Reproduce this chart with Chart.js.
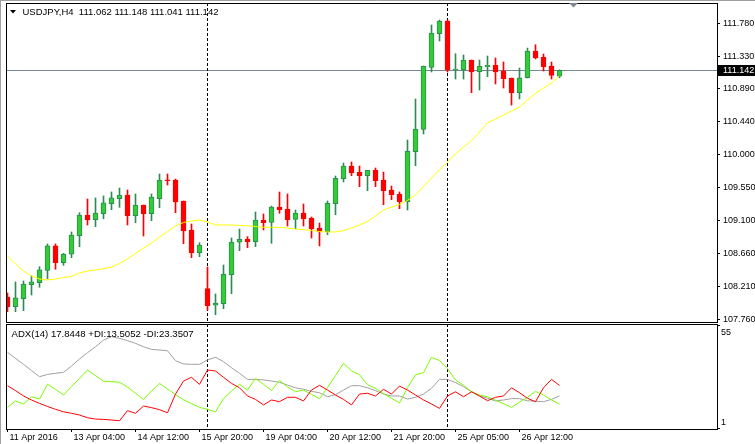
<!DOCTYPE html>
<html><head><meta charset="utf-8">
<script src="https://cdn.jsdelivr.net/npm/chart.js@4.4.0/dist/chart.umd.min.js"></script>
<style>
html,body{margin:0;padding:0;background:#fff;overflow:hidden;}
#wrap{position:relative;width:755px;height:444px;background:#fff;}
#c1{position:absolute;left:0;top:0;}
#c2{position:absolute;left:0;top:323px;}
</style></head><body>
<div id="wrap"><canvas id="c1" width="755" height="323"></canvas><canvas id="c2" width="755" height="121"></canvas></div>
<script>
const symbolName = 'USDJPY';
const timeframe = 'H4';
const opens  = [108.063,107.931,108.040,108.230,108.257,108.425,108.756,108.529,108.643,108.896,
                109.177,109.113,109.194,109.330,109.398,109.448,109.167,109.312,109.194,109.398,
                109.651,109.651,109.367,108.973,108.664,108.176,107.950,107.972,108.366,108.806,
                108.850,108.814,109.109,109.077,109.285,109.258,109.118,109.204,109.136,108.999,
                108.950,109.330,109.670,109.842,109.760,109.710,109.788,109.651,109.516,109.458,
                109.357,110.036,110.340,111.182,111.639,111.811,111.146,111.146,111.282,111.123,
                111.191,111.214,111.132,111.037,110.837,111.041,111.404,111.322,111.200,111.062];
const highs  = [108.117,108.267,108.280,108.348,108.474,108.783,108.783,108.656,108.946,109.208,
                109.394,109.408,109.435,109.489,109.543,109.516,109.462,109.312,109.462,109.733,
                109.733,109.665,109.367,109.054,108.800,108.470,108.104,108.497,108.864,108.986,
                108.882,109.217,109.190,109.299,109.489,109.462,109.244,109.326,109.149,109.068,
                109.367,109.706,109.883,109.897,109.842,109.784,109.815,109.760,109.570,109.489,
                110.195,110.752,111.200,111.757,111.825,111.825,111.367,111.350,111.282,111.282,
                111.336,111.309,111.255,111.037,111.173,111.444,111.489,111.363,111.255,111.148];
const lows   = [107.863,107.863,107.877,108.090,108.195,108.311,108.439,108.493,108.597,108.746,
                109.041,109.018,109.126,109.249,109.281,109.041,109.072,108.891,109.099,109.276,
                109.584,109.208,108.787,108.597,108.610,107.886,107.822,107.904,108.108,108.692,
                108.732,108.746,108.973,108.792,109.200,109.027,108.990,109.027,108.864,108.756,
                108.909,109.181,109.625,109.710,109.561,109.507,109.561,109.316,109.384,109.262,
                109.244,109.846,110.277,111.119,111.540,111.119,111.023,111.023,110.837,110.874,
                111.055,110.956,110.901,110.670,110.752,111.037,111.295,111.132,111.023,111.041];
const closes = [107.931,108.053,108.239,108.267,108.430,108.756,108.529,108.647,108.905,109.177,
                109.109,109.204,109.340,109.408,109.448,109.167,109.312,109.194,109.421,109.651,
                109.642,109.353,108.960,108.664,108.769,107.945,107.981,108.375,108.810,108.846,
                108.814,109.109,109.072,109.285,109.249,109.113,109.204,109.126,108.990,108.950,
                109.335,109.675,109.842,109.751,109.710,109.784,109.642,109.507,109.452,109.357,
                110.042,110.345,111.200,111.648,111.811,111.146,111.150,111.282,111.119,111.200,
                111.214,111.119,111.028,110.837,111.041,111.404,111.309,111.191,111.074,111.142];
const maValues = [108.620,108.511,108.416,108.348,108.307,108.294,108.307,108.328,108.341,108.389,
                  108.416,108.430,108.447,108.470,108.518,108.579,108.654,108.728,108.796,108.878,
                  108.952,109.027,109.075,109.095,109.109,109.081,109.041,109.041,109.041,109.034,
                  109.030,109.020,109.009,109.009,109.009,109.000,108.986,108.977,108.966,108.952,
                  108.946,108.946,108.963,109.000,109.041,109.088,109.163,109.244,109.285,109.319,
                  109.373,109.448,109.564,109.679,109.788,109.896,110.005,110.100,110.188,110.304,
                  110.426,110.480,110.535,110.589,110.643,110.738,110.827,110.901,110.969,111.064];
const adxValues = [40.7,37.5,34.4,31.1,27.9,29.1,29.7,30.2,33.5,37.2,
                   40.5,43.6,47.1,48.9,48.0,46.8,45.4,43.6,42.2,41.9,
                   41.5,36.3,34.6,34.4,34.4,36.7,38.1,35.8,32.6,29.7,
                   26.5,26.5,26.2,25.6,25.0,23.5,22.1,21.3,20.2,19.5,
                   17.4,18.5,20.9,23.2,23.2,22.1,20.6,18.8,17.8,17.8,
                   16.2,17.1,18.8,21.8,26.5,26.5,24.8,22.7,20.0,17.9,
                   16.6,15.2,15.7,16.4,16.4,15.3,15.0,14.8,16.0,17.8448];
const plusDI = [11.8,15.2,13.6,17.4,16.2,23.9,21.3,18.3,22.7,27.0,
                31.4,28.5,25.6,25.3,25.0,22.5,19.2,16.0,20.4,24.4,
                21.5,18.5,15.8,13.8,11.8,10.8,9.5,16.4,20.4,23.9,
                20.9,27.0,23.9,20.7,26.0,22.5,20.0,20.9,18.6,16.4,
                22.1,28.5,34.9,31.0,28.9,23.7,21.8,19.0,16.6,14.1,
                22.1,28.9,30.0,38.0,36.4,32.1,26.2,23.5,20.0,18.3,
                17.4,15.5,13.8,11.8,14.6,17.1,20.2,18.3,15.7,13.5052];
const minusDI = [23.2,20.6,17.8,15.7,13.9,12.3,10.8,9.5,8.7,7.8,
                 6.4,5.7,5.5,5.2,4.8,10.1,8.7,12.5,11.7,10.6,
                 9.0,18.8,25.6,27.6,23.9,31.4,30.9,27.6,24.4,22.1,
                 17.8,16.0,13.1,15.7,14.8,17.1,17.1,15.2,20.9,23.4,
                 20.9,18.3,16.0,13.1,18.8,19.2,17.8,21.3,18.8,23.0,
                 20.9,18.3,15.7,13.6,11.3,17.8,20.0,17.4,20.0,17.8,
                 15.3,17.1,17.8,22.1,19.5,16.6,14.8,22.1,26.5,23.3507];
const priceTicks = [107.76,108.21,108.66,109.10,109.55,110.00,110.44,110.89,111.33,111.78];
const timeTickIdx = [0,8,16,24,32,40,48,56,64];
const timeTickLabels = ['11 Apr 2016','13 Apr 04:00','14 Apr 12:00','15 Apr 20:00','19 Apr 04:00','20 Apr 12:00','21 Apr 20:00','25 Apr 05:00','26 Apr 12:00'];
const separatorIdx = [25,55];
const bidPrice = 111.142;
const adxPeriod = 14;
const indTicks = [55,1];
const indTickLabels = ['55','1'];

const FONT = 'Liberation Sans';
const idx = opens.map((_,i)=>i);
const isUp = idx.map(i=>closes[i]>=opens[i]);
const BULL='#32CD32', BULL_LINE='#2E8B57', BEAR='#FF0000';

const X_MIN=-0.1875, X_MAX=88.6875;

function noPad(s){ s.paddingTop=0; s.paddingBottom=0; s.paddingLeft=0; s.paddingRight=0; }

function drawSeparators(chart){
  const {ctx, chartArea:a, scales:{x}} = chart;
  ctx.save();
  ctx.strokeStyle='#000'; ctx.lineWidth=1; ctx.setLineDash([3,2]);
  separatorIdx.forEach(i=>{
    const px=Math.floor(x.getPixelForValue(i))+0.5;
    ctx.beginPath(); ctx.moveTo(px,a.top); ctx.lineTo(px,a.bottom); ctx.stroke();
  });
  ctx.restore();
}
function drawFrame(chart){
  const {ctx, chartArea:a} = chart;
  ctx.save();
  ctx.strokeStyle='#000'; ctx.lineWidth=1;
  ctx.strokeRect(a.left+0.5, a.top+0.5, a.right-a.left, a.bottom-a.top);
  ctx.strokeStyle='#a0a0a0';
  ctx.beginPath(); ctx.moveTo(0.5,0); ctx.lineTo(0.5,chart.height); ctx.stroke();
  ctx.restore();
}

const mainPlugin = {
  id:'mainDeco',
  beforeDatasetsDraw(chart){
    const {ctx, chartArea:a, scales:{y}} = chart;
    ctx.save();
    const by=Math.floor(y.getPixelForValue(bidPrice))+0.5;
    ctx.strokeStyle='#778899'; ctx.lineWidth=1;
    ctx.beginPath(); ctx.moveTo(a.left,by); ctx.lineTo(a.right,by); ctx.stroke();
    ctx.restore();
    drawSeparators(chart);
  },
  afterDraw(chart){
    const {ctx, chartArea:a, scales:{y}} = chart;
    drawFrame(chart);
    ctx.save();
    ctx.strokeStyle='#a0a0a0'; ctx.lineWidth=1;
    ctx.beginPath(); ctx.moveTo(0,0.5); ctx.lineTo(chart.width,0.5); ctx.stroke();
    const by=y.getPixelForValue(bidPrice);
    ctx.fillStyle='#000';
    ctx.fillRect(a.right+1, Math.round(by)-5, chart.width-a.right-1, 11);
    ctx.fillStyle='#fff'; ctx.font='9px "'+FONT+'"'; ctx.textBaseline='middle'; ctx.textAlign='left';
    ctx.fillText(bidPrice.toFixed(3), a.right+6, Math.round(by)+0.5);
    ctx.fillStyle='#000';
    ctx.beginPath(); ctx.moveTo(10,10); ctx.lineTo(16,10); ctx.lineTo(13,13.5); ctx.closePath(); ctx.fill();
    const n=opens.length-1;
    ctx.font='9.5px "'+FONT+'"';
    ctx.fillText(symbolName+','+timeframe+'  '+opens[n].toFixed(3)+' '+highs[n].toFixed(3)+' '+lows[n].toFixed(3)+' '+closes[n].toFixed(3), 22.5, 12.5);
    ctx.fillStyle='#7f8794';
    ctx.beginPath(); ctx.moveTo(569,3); ctx.lineTo(578,3); ctx.lineTo(573.5,7.5); ctx.closePath(); ctx.fill();
    ctx.restore();
  }
};

const indPlugin = {
  id:'indDeco',
  beforeDatasetsDraw(chart){ drawSeparators(chart); },
  afterDraw(chart){
    const {ctx, chartArea:a, scales:{y}} = chart;
    drawFrame(chart);
    ctx.save();
    ctx.fillStyle='#000'; ctx.textBaseline='middle'; ctx.textAlign='left';
    ctx.font='9.6px "'+FONT+'"';
    const n=adxValues.length-1;
    ctx.fillText('ADX('+adxPeriod+') '+adxValues[n].toFixed(4)+' +DI:'+plusDI[n].toFixed(4)+' -DI:'+minusDI[n].toFixed(4), 11.5, 11);
    ctx.font='9px "'+FONT+'"';
    ctx.fillText(indTickLabels[0], a.right+4, y.getPixelForValue(indTicks[0])+7);
    ctx.fillText(indTickLabels[1], a.right+4, y.getPixelForValue(indTicks[1])-5);
    ctx.restore();
  }
};

const common = {
  responsive:false, animation:false, events:[],
  plugins:{legend:{display:false}, tooltip:{enabled:false}, title:{display:false}},
  elements:{point:{radius:0}}
};

new Chart(document.getElementById('c1'), {
  type:'bar',
  data:{datasets:[
    {type:'bar', label:'wick', data: idx.map(i=>({x:i, y:[lows[i], highs[i]]})),
     backgroundColor: idx.map(i=>isUp[i]?BULL_LINE:BEAR), borderWidth:0, barThickness:1, grouped:false, order:2},
    {type:'bar', label:'body', data: idx.map(i=>({x:i, y:[opens[i], closes[i]]})),
     backgroundColor: idx.map(i=>isUp[i]?BULL:BEAR), borderColor: idx.map(i=>isUp[i]?BULL_LINE:BEAR),
     borderWidth:1, borderSkipped:false, barThickness:5, minBarLength:1, grouped:false, order:1},
    {type:'line', label:'MA', data: idx.map(i=>({x:i, y:maValues[i]})), borderColor:'#FFFF00', borderWidth:1, pointRadius:0, tension:0, order:0}
  ]},
  options:Object.assign({}, common, {
    layout:{padding:{left:6, top:3, right:0, bottom:1}},
    scales:{
      x:{type:'linear', min:X_MIN, max:X_MAX, offset:false, display:false},
      y:{position:'right', min:107.723, max:112.056,
         afterFit(s){ s.width=38; noPad(s); },
         afterBuildTicks(s){ s.ticks=priceTicks.map(v=>({value:v})); },
         ticks:{callback:v=>Number(v).toFixed(3), color:'#000', font:{family:FONT, size:9}, padding:3, autoSkip:false},
         grid:{drawOnChartArea:false, drawTicks:true, tickLength:3, color:'#000'},
         border:{display:false}}
    }
  }),
  plugins:[mainPlugin]
});

new Chart(document.getElementById('c2'), {
  type:'line',
  data:{datasets:[
    {label:'ADX', data: idx.map(i=>({x:i, y:adxValues[i]})), borderColor:'#A0A0A0', borderWidth:1, pointRadius:0, tension:0, order:2},
    {label:'+DI', data: idx.map(i=>({x:i, y:plusDI[i]})), borderColor:'#7CFC00', borderWidth:1, pointRadius:0, tension:0, order:1},
    {label:'-DI', data: idx.map(i=>({x:i, y:minusDI[i]})), borderColor:'#FF0000', borderWidth:1, pointRadius:0, tension:0, order:0}
  ]},
  options:Object.assign({}, common, {
    layout:{padding:{left:6, top:1, right:0, bottom:0}},
    scales:{
      x:{type:'linear', min:X_MIN, max:X_MAX, offset:false,
         afterFit(s){ s.height=15; noPad(s); },
         afterBuildTicks(s){ s.ticks=timeTickIdx.map(v=>({value:v})); },
         ticks:{callback:(v,i)=>timeTickLabels[i], align:'start', maxRotation:0, minRotation:0, autoSkip:false, padding:1, labelOffset:2,
                color:'#000', font:{family:FONT, size:9, lineHeight:1}},
         grid:{drawOnChartArea:false, drawTicks:true, tickLength:3, color:'#000'},
         border:{display:false}},
      y:{position:'right', min:0.476, max:55.54,
         afterFit(s){ s.width=38; noPad(s); },
         afterBuildTicks(s){ s.ticks=indTicks.map(v=>({value:v})); },
         ticks:{callback:()=>'', autoSkip:false, padding:0},
         grid:{drawOnChartArea:false, drawTicks:true, tickLength:3, color:'#000'},
         border:{display:false}}
    }
  }),
  plugins:[indPlugin]
});
</script>
</body></html>
